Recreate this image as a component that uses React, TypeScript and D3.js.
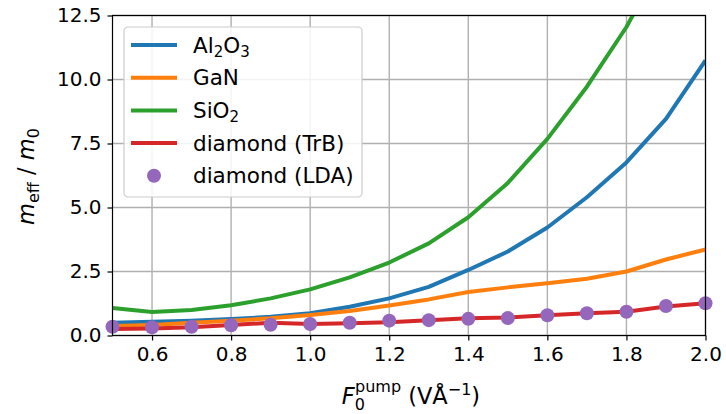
import React, { useRef, useEffect } from 'react';
import * as d3 from 'd3';

// field strength (V/Å)
const fields = [0.5, 0.6, 0.7, 0.8, 0.9, 1.0, 1.1, 1.2, 1.3, 1.4, 1.5, 1.6, 1.7, 1.8, 1.9, 2.0];

// effective mass ratios
const al2o3 = [0.5, 0.54, 0.58, 0.64, 0.73, 0.87, 1.12, 1.45, 1.9, 2.56, 3.28, 4.22, 5.4, 6.76, 8.46, 10.75];
const gan = [0.37, 0.41, 0.5, 0.58, 0.67, 0.8, 0.96, 1.17, 1.41, 1.7, 1.88, 2.04, 2.22, 2.5, 2.97, 3.36];
const sio2 = [1.07, 0.92, 1.0, 1.18, 1.45, 1.8, 2.27, 2.85, 3.6, 4.62, 5.96, 7.68, 9.72, 12.05, 14.9, 18.3];
const diamondTrB = [0.25, 0.27, 0.32, 0.41, 0.5, 0.45, 0.48, 0.52, 0.6, 0.67, 0.7, 0.79, 0.87, 0.93, 1.13, 1.26];
const diamondLDA = [0.34, 0.32, 0.34, 0.4, 0.42, 0.45, 0.5, 0.58, 0.6, 0.65, 0.68, 0.79, 0.87, 0.93, 1.15, 1.26];

const xTicks = [0.6, 0.8, 1.0, 1.2, 1.4, 1.6, 1.8, 2.0];
const yTicks = [0.0, 2.5, 5.0, 7.5, 10.0, 12.5];

const lineSeries = [
  { name: 'Al', values: al2o3, color: '#1f77b4' },
  { name: 'GaN', values: gan, color: '#ff7f0e' },
  { name: 'SiO', values: sio2, color: '#2ca02c' },
  { name: 'TrB', values: diamondTrB, color: '#d62728' },
];

const FONT = 'DejaVu Sans';

const App = () => {
  const svgRef = useRef<SVGSVGElement>(null);

  useEffect(() => {
    const margin = { top: 15.5, right: 20.5, bottom: 78.5, left: 112.5 };
    const W = 726;
    const H = 414;
    const width = W - margin.left - margin.right;
    const height = H - margin.top - margin.bottom;

    d3.select(svgRef.current).selectAll('*').remove();

    const root = d3.select(svgRef.current).attr('width', W).attr('height', H);

    root
      .append('defs')
      .append('clipPath')
      .attr('id', 'plot-clip')
      .append('rect')
      .attr('width', width)
      .attr('height', height);

    const svg = root.append('g').attr('transform', `translate(${margin.left},${margin.top})`);

    const x = d3.scaleLinear().domain([0.5, 2.0]).range([0, width]);
    const y = d3.scaleLinear().domain([0, 12.5]).range([height, 0]);

    // grid
    const grid = svg.append('g');
    grid
      .selectAll('line.vx')
      .data(xTicks)
      .join('line')
      .attr('x1', (d) => x(d))
      .attr('x2', (d) => x(d))
      .attr('y1', 0)
      .attr('y2', height)
      .attr('stroke', '#b0b0b0')
      .attr('stroke-width', 1.4);
    grid
      .selectAll('line.hy')
      .data(yTicks)
      .join('line')
      .attr('x1', 0)
      .attr('x2', width)
      .attr('y1', (d) => y(d))
      .attr('y2', (d) => y(d))
      .attr('stroke', '#b0b0b0')
      .attr('stroke-width', 1.4);

    const line = d3
      .line<number>()
      .x((d, i) => x(fields[i]))
      .y((d) => y(d));

    const plot = svg.append('g').attr('clip-path', 'url(#plot-clip)');

    lineSeries.forEach((s) => {
      plot
        .append('path')
        .datum(s.values)
        .attr('fill', 'none')
        .attr('stroke', s.color)
        .attr('stroke-width', 4)
        .attr('stroke-linejoin', 'round')
        .attr('d', line);
    });

    // LDA points
    svg
      .append('g')
      .selectAll('circle')
      .data(diamondLDA)
      .join('circle')
      .attr('cx', (d, i) => x(fields[i]))
      .attr('cy', (d) => y(d))
      .attr('r', 7)
      .attr('fill', '#9467bd');

    // spines
    svg
      .append('rect')
      .attr('width', width)
      .attr('height', height)
      .attr('fill', 'none')
      .attr('stroke', 'black')
      .attr('stroke-width', 1.2);

    // x-axis
    const xAxis = svg
      .append('g')
      .attr('transform', `translate(0,${height})`)
      .call(
        d3
          .axisBottom(x)
          .tickValues(xTicks)
          .tickSize(5)
          .tickPadding(6)
          .tickFormat(d3.format('.1f'))
      );

    // y-axis
    const yAxis = svg
      .append('g')
      .call(
        d3
          .axisLeft(y)
          .tickValues(yTicks)
          .tickSize(5)
          .tickPadding(6)
          .tickFormat(d3.format('.1f'))
      );

    [xAxis, yAxis].forEach((ax) => {
      ax.select('.domain').remove();
      ax.selectAll('line').attr('stroke', 'black').attr('stroke-width', 1.2);
      ax.selectAll('text')
        .attr('fill', 'black')
        .style('font-family', FONT)
        .style('font-size', '20px');
    });

    // axis labels
    const xl = svg
      .append('text')
      .attr('x', width / 2 + 2)
      .attr('y', height + 68.5)
      .attr('text-anchor', 'middle')
      .style('font-family', FONT)
      .style('font-size', '22.5px');
    xl.append('tspan').attr('font-style', 'italic').text('F');
    xl.append('tspan').attr('dy', 6).style('font-size', '16px').text('0');
    xl.append('tspan').attr('dx', -10).attr('dy', -18).style('font-size', '16px').text('pump');
    xl.append('tspan').attr('dy', 12).text(' (VÅ');
    xl.append('tspan').attr('dy', -9).style('font-size', '16px').text('−1');
    xl.append('tspan').attr('dy', 9).text(')');

    const yl = svg
      .append('text')
      .attr('transform', `translate(${34 - margin.left},${height / 2 + 1}) rotate(-90)`)
      .attr('text-anchor', 'middle')
      .style('font-family', FONT)
      .style('font-size', '22.5px');
    yl.append('tspan').attr('font-style', 'italic').text('m');
    yl.append('tspan').attr('dy', 5).style('font-size', '16px').text('eff');
    yl.append('tspan').attr('dy', -5).text(' / ');
    yl.append('tspan').attr('font-style', 'italic').text('m');
    yl.append('tspan').attr('dy', 5).style('font-size', '16px').text('0');

    // legend
    const lg = svg.append('g').attr('transform', `translate(${124 - margin.left},${27 - margin.top})`);
    lg.append('rect')
      .attr('width', 238)
      .attr('height', 170)
      .attr('rx', 4)
      .attr('fill', 'white')
      .attr('fill-opacity', 0.85)
      .attr('stroke', '#cccccc')
      .attr('stroke-width', 1.2);

    const rowY = (i: number) => 18 + i * 32.7;

    const labels: [string, string | null, string, string | null][] = [
      ['Al', '2', 'O', '3'],
      ['GaN', null, '', null],
      ['SiO', '2', '', null],
      ['diamond (TrB)', null, '', null],
    ];

    lineSeries.forEach((s, i) => {
      lg.append('line')
        .attr('x1', 7)
        .attr('x2', 53)
        .attr('y1', rowY(i))
        .attr('y2', rowY(i))
        .attr('stroke', s.color)
        .attr('stroke-width', 4);
      const t = lg
        .append('text')
        .attr('x', 69)
        .attr('y', rowY(i) + 7.5)
        .style('font-family', FONT)
        .style('font-size', '21.5px');
      const [a, sa, b, sb] = labels[i];
      t.append('tspan').text(a);
      if (sa) t.append('tspan').attr('dy', 4).style('font-size', '15px').text(sa);
      if (b) t.append('tspan').attr('dy', -4).text(b);
      if (sb) t.append('tspan').attr('dy', 4).style('font-size', '15px').text(sb);
    });

    lg.append('circle').attr('cx', 30).attr('cy', rowY(4)).attr('r', 7).attr('fill', '#9467bd');
    lg.append('text')
      .attr('x', 69)
      .attr('y', rowY(4) + 7.5)
      .style('font-family', FONT)
      .style('font-size', '21.5px')
      .text('diamond (LDA)');
  }, []);

  return (
    <svg ref={svgRef} style={{ position: 'absolute', left: 0, top: 0, background: 'white' }}></svg>
  );
};

export default App;
